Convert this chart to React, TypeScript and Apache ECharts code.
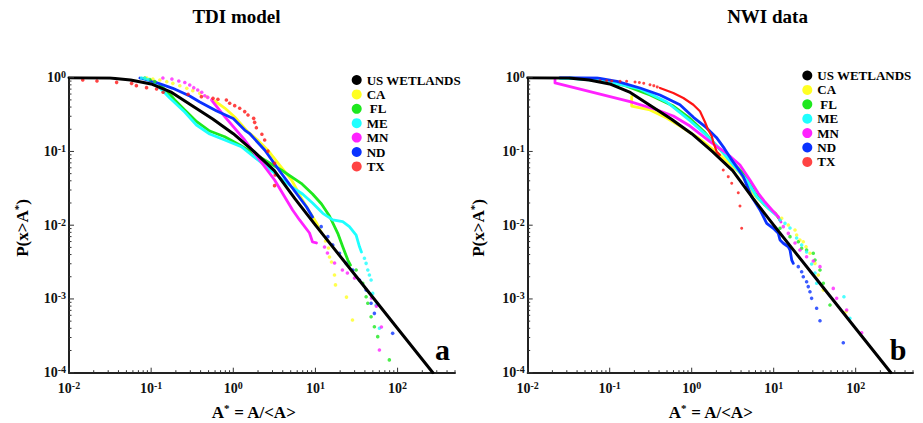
import { useEffect, useRef } from 'react';
import * as echarts from 'echarts';

const FONT = 'Liberation Serif';

// ---------- axis ranges and tick values ----------
const X_MIN = 0.01;
const X_MAX = 500;
const Y_MIN = 0.0001;
const Y_MAX = 1;
const X_MAJOR = [0.01, 0.1, 1, 10, 100];
const X_MINOR = [
  0.02, 0.03, 0.04, 0.05, 0.06, 0.07, 0.08, 0.09,
  0.2, 0.3, 0.4, 0.5, 0.6, 0.7, 0.8, 0.9,
  2, 3, 4, 5, 6, 7, 8, 9,
  20, 30, 40, 50, 60, 70, 80, 90,
  200, 300, 400, 500,
];
const Y_MAJOR = [0.0001, 0.001, 0.01, 0.1, 1];
const Y_MINOR = [
  0.0002, 0.0003, 0.0004, 0.0005, 0.0006, 0.0007, 0.0008, 0.0009,
  0.002, 0.003, 0.004, 0.005, 0.006, 0.007, 0.008, 0.009,
  0.02, 0.03, 0.04, 0.05, 0.06, 0.07, 0.08, 0.09,
  0.2, 0.3, 0.4, 0.5, 0.6, 0.7, 0.8, 0.9,
];

const NAMES = ['US WETLANDS', 'CA', 'FL', 'ME', 'MN', 'ND', 'TX'];

// ---------- US WETLANDS fit (both panels) ----------
const US_X = [0.01, 0.0316, 0.0562, 0.1, 0.178, 0.316, 0.562, 1, 1.78, 3.16, 5.62, 10, 31.6, 100, 269];
const US_Y = [1, 0.989, 0.933, 0.822, 0.631, 0.417, 0.275, 0.174, 0.1, 0.055, 0.0229, 0.01, 0.002, 0.000398, 0.0001];

// ---------- panel a : TDI model ----------
const CA_A_LINE_X = [0.5943, 0.787, 1.04, 1.496, 1.977, 2.618, 3.664, 5.129, 6.966, 8.97, 10.3, 11.86];
const CA_A_LINE_Y = [0.483, 0.388, 0.293, 0.186, 0.143, 0.1047, 0.0655, 0.041, 0.0219, 0.01374, 0.01072, 0.00784];
const CA_A_DOT_X = [0.0887, 0.105, 0.1276, 0.155, 0.1837, 0.2234, 0.2716, 0.3214, 0.3908, 0.4753, 13.27, 14.42, 14.83, 15.7, 17.06, 17.54, 23.88, 28.25];
const CA_A_DOT_Y = [0.991, 0.96, 0.931, 0.883, 0.839, 0.779, 0.718, 0.667, 0.614, 0.552, 0.0061, 0.00491, 0.00371, 0.00317, 0.00211, 0.00155, 0.00106, 0.000519];

const FL_A_LINE_X = [0.1276, 0.1596, 0.194, 0.2564, 0.359, 0.516, 0.787, 1.197, 1.91, 2.41, 3.84, 6.71, 9.22, 11.86, 14.83, 18.71, 21.5, 24.8, 26.7];
const FL_A_LINE_Y = [0.796, 0.64, 0.499, 0.365, 0.253, 0.189, 0.1585, 0.1223, 0.0895, 0.0766, 0.0561, 0.037, 0.0265, 0.0194, 0.01333, 0.00776, 0.0051, 0.00337, 0.00288];
const FL_A_DOT_X = [0.0837, 0.0964, 0.111, 31.3, 37.7, 41.4, 43.4, 47.6, 52.2, 57.3, 79.4];
const FL_A_DOT_Y = [0.991, 0.945, 0.888, 0.00247, 0.00163, 0.00107, 0.000873, 0.000574, 0.00042, 0.000308, 0.000149];

const ME_A_LINE_X = [0.102, 0.1276, 0.1687, 0.2564, 0.356, 0.516, 0.787, 1.253, 1.995, 3.184, 5.08, 6.97, 9.22, 12.3, 16.26, 21.5, 25.9, 31.3, 34.4, 36.3];
const ME_A_LINE_Y = [0.875, 0.725, 0.531, 0.343, 0.2284, 0.1725, 0.143, 0.116, 0.0766, 0.0506, 0.0333, 0.0265, 0.02, 0.01449, 0.01178, 0.01115, 0.00955, 0.00736, 0.0051, 0.00433];
const ME_A_DOT_X = [0.0764, 0.0837, 0.0912, 39.5, 41.4, 43.4, 45.4, 47.6, 49.8, 54.8, 60.1];
const ME_A_DOT_Y = [0.991, 0.975, 0.945, 0.00356, 0.00304, 0.00247, 0.00211, 0.00181, 0.00119, 0.000828, 0.0004];

const MN_A_LINE_X = [0.562, 0.787, 1.377, 2.41, 3.184, 4.217, 5.27, 6.41, 8.47, 9.22, 10.3];
const MN_A_LINE_Y = [0.473, 0.296, 0.143, 0.0621, 0.041, 0.0243, 0.0161, 0.01178, 0.00784, 0.00592, 0.00574];
const MN_A_DOT_X = [0.139, 0.179, 0.217, 0.257, 0.295, 0.33, 0.369, 0.413, 0.449, 0.489, 0.547, 12.9, 14.0, 17.1, 21.3, 24.5, 29.9, 48.1, 55.2, 63.5, 60.1];
const MN_A_DOT_Y = [0.991, 0.96, 0.902, 0.861, 0.796, 0.732, 0.681, 0.634, 0.57, 0.542, 0.499, 0.00506, 0.0042, 0.00307, 0.00247, 0.00225, 0.00192, 0.00103, 0.0008, 0.000417, 0.000203];

const ND_A_LINE_X = [0.073, 0.111, 0.1837, 0.295, 0.391, 0.628, 0.998, 1.377, 1.581, 2.41, 3.84, 5.85, 7.8, 9.22];
const ND_A_LINE_Y = [0.991, 0.875, 0.718, 0.565, 0.469, 0.353, 0.28, 0.195, 0.175, 0.1047, 0.0506, 0.0271, 0.01766, 0.01291];
const ND_A_DOT_X = [11.75, 14.16, 16.26, 19.63, 23.66, 28.45, 34.36, 41.4, 47.6, 52.2, 87.1];
const ND_A_DOT_Y = [0.00955, 0.00699, 0.0054, 0.00416, 0.00304, 0.00247, 0.00181, 0.00132, 0.000873, 0.000638, 0.000342];

const TX_A_DOT_X = [0.0147, 0.0219, 0.038, 0.0578, 0.0661, 0.0879, 0.1164, 0.14, 0.282, 0.409, 0.566, 0.65, 0.824, 0.904, 1.04, 1.197, 1.377, 1.51, 1.77, 1.82, 1.91, 2.23, 2.41, 2.64, 3.18, 3.24, 3.18];
const TX_A_DOT_Y = [0.931, 0.902, 0.865, 0.839, 0.78, 0.733, 0.703, 0.634, 0.596, 0.553, 0.525, 0.51, 0.499, 0.45, 0.418, 0.385, 0.347, 0.312, 0.281, 0.248, 0.21, 0.171, 0.143, 0.101, 0.069, 0.048, 0.0344];

// ---------- panel b : NWI data ----------
const CA_B_LINE_X = [0.1854, 0.1854, 0.31, 0.4955, 0.719, 1.262, 2.213, 3.88, 5.92, 8.51, 10.66];
const CA_B_LINE_Y = [0.552, 0.413, 0.365, 0.284, 0.221, 0.1476, 0.0895, 0.051, 0.0249, 0.0171, 0.01419];
const CA_B_DOT_X = [12.53, 15.07, 18.2, 19.05, 20.9, 22.96, 24.8, 27.7, 31.9, 35.0, 40.3, 76.2];
const CA_B_DOT_Y = [0.0124, 0.01007, 0.00861, 0.00736, 0.0063, 0.00597, 0.0051, 0.00416, 0.00304, 0.00211, 0.00132, 0.000671];

const FL_B_LINE_X = [0.0328, 0.0575, 0.1466, 0.31, 0.597, 0.953, 1.452, 2.018, 3.215, 4.69, 5.92, 7.83, 10.37, 11.94];
const FL_B_LINE_Y = [0.991, 0.94, 0.796, 0.582, 0.413, 0.28, 0.18, 0.118, 0.069, 0.0455, 0.0271, 0.0188, 0.01463, 0.01178];
const FL_B_DOT_X = [11.94, 15.81, 19.95, 21.93, 25.2, 30.4, 31.9, 36.7, 40.3, 48.6];
const FL_B_DOT_Y = [0.00908, 0.00699, 0.00597, 0.00486, 0.00461, 0.00416, 0.00337, 0.00247, 0.00163, 0.000828];

const ME_B_LINE_X = [0.0248, 0.036, 0.0918, 0.2344, 0.4955, 0.953, 1.524, 2.213, 3.215, 4.69, 6.21, 9.02, 10.66];
const ME_B_LINE_Y = [0.981, 0.969, 0.894, 0.703, 0.468, 0.262, 0.165, 0.108, 0.0655, 0.041, 0.0243, 0.0161, 0.01374];
const ME_B_DOT_X = [11.94, 13.74, 15.81, 19.05, 21.93, 25.2, 29.0, 31.9, 33.4, 71.9, 85.1];
const ME_B_DOT_Y = [0.01178, 0.0106, 0.00916, 0.0067, 0.0054, 0.00433, 0.00298, 0.00225, 0.00163, 0.00107, 0.000547];

const MN_B_LINE_X = [0.02153, 0.02153, 0.177, 0.374, 0.597, 0.953, 1.671, 2.673, 3.88, 5.14, 6.49, 7.83, 9.53, 11.38, 12.27];
const MN_B_LINE_Y = [0.94, 0.848, 0.473, 0.368, 0.303, 0.221, 0.1356, 0.0944, 0.0655, 0.041, 0.0271, 0.0206, 0.0161, 0.01303, 0.01104];
const MN_B_DOT_X = [13.09, 15.07, 18.2, 20.9, 25.2, 30.4, 36.7, 53.3, 58.6, 77.6, 118.3];
const MN_B_DOT_Y = [0.00955, 0.00776, 0.00574, 0.00461, 0.00374, 0.00327, 0.00274, 0.00139, 0.00102, 0.000708, 0.000348];

const ND_B_LINE_X = [0.0248, 0.0356, 0.07, 0.1227, 0.2344, 0.41, 0.719, 1.05, 1.5, 2.0, 2.5, 3.0, 3.6, 4.256, 5.395, 6.808, 8.22, 9.89, 11.38, 11.94, 13.09, 15.07, 15.81, 16.6, 17.34];
const ND_B_LINE_Y = [1.0, 1.0, 0.991, 0.894, 0.725, 0.582, 0.43, 0.29, 0.212, 0.155, 0.11, 0.08, 0.06, 0.0455, 0.0243, 0.0161, 0.0106, 0.00908, 0.00776, 0.0063, 0.00569, 0.0051, 0.00461, 0.00337, 0.00304];
const ND_B_DOT_X = [19.95, 21.93, 22.96, 25.2, 26.4, 27.7, 29.0, 33.4, 36.7, 70.6];
const ND_B_DOT_Y = [0.00274, 0.00234, 0.002, 0.00171, 0.00147, 0.00125, 0.00102, 0.000747, 0.000507, 0.000255];

const TX_B_LINE_X = [0.41, 0.597, 0.791, 1.047, 1.262, 1.452, 1.592, 1.754, 1.834, 2.018, 2.213];
const TX_B_LINE_Y = [0.725, 0.621, 0.531, 0.43, 0.35, 0.251, 0.195, 0.162, 0.134, 0.0993, 0.0895];
const TX_B_DOT_X = [0.0762, 0.0918, 0.1057, 0.1337, 0.161, 0.2037, 0.23, 0.26, 0.31, 0.345, 0.38, 2.427, 2.793, 3.076, 3.7, 3.88, 4.07];
const TX_B_DOT_Y = [0.91, 0.91, 0.902, 0.894, 0.894, 0.875, 0.86, 0.84, 0.804, 0.78, 0.75, 0.0561, 0.0455, 0.037, 0.0276, 0.0182, 0.00908];

// ---------- styles ----------
const COLOR: Record<string, string> = {
  'US WETLANDS': '#000000',
  CA: '#ffff22',
  FL: '#1ee81e',
  ME: '#1effff',
  MN: '#ff22ff',
  ND: '#0a32ff',
  TX: '#ff1414',
};

const pts = (xs: number[], ys: number[]) => xs.map((x, i) => [x, ys[i]]);

const lineS = (name: string, g: number, xs: number[], ys: number[], width = 2.8, z = 2) => ({
  type: 'line',
  name,
  xAxisIndex: g,
  yAxisIndex: g,
  data: pts(xs, ys),
  symbol: 'none',
  showSymbol: false,
  lineStyle: { color: COLOR[name], width, cap: 'round', join: 'round' },
  itemStyle: { color: COLOR[name] },
  silent: true,
  z,
});

const dotS = (name: string, g: number, xs: number[], ys: number[], size = 3.6) => ({
  type: 'scatter',
  name,
  xAxisIndex: g,
  yAxisIndex: g,
  data: pts(xs, ys),
  symbol: 'circle',
  symbolSize: size,
  itemStyle: { color: COLOR[name] },
  silent: true,
  z: 2,
});

const tickS = (g: number, values: number[], dir: 'x' | 'y', len: number) => ({
  type: 'custom',
  xAxisIndex: g,
  yAxisIndex: g,
  silent: true,
  clip: false,
  z: 6,
  data: values.map((v) => (dir === 'x' ? [v, Y_MIN] : [X_MIN, v])),
  renderItem: (_p: any, api: any) => {
    const p = api.coord([api.value(0), api.value(1)]);
    const shape =
      dir === 'x'
        ? { x1: p[0], y1: p[1], x2: p[0], y2: p[1] - len }
        : { x1: p[0], y1: p[1], x2: p[0] + len, y2: p[1] };
    return { type: 'line', shape, style: { stroke: '#333', lineWidth: 1 } };
  },
});

const labelFmt = (v: number) => {
  const e = Math.round(Math.log10(v));
  if (Math.abs(v / Math.pow(10, e) - 1) > 1e-6) return '';
  return `{b|10}{s|${e}}`;
};

const tickRich = {
  b: { fontFamily: FONT, fontWeight: 'bold', fontSize: 14, lineHeight: 16, color: '#111' },
  s: { fontFamily: FONT, fontWeight: 'bold', fontSize: 10, lineHeight: 7, verticalAlign: 'top', color: '#111' },
};

const nameRich = {
  n: { fontFamily: FONT, fontWeight: 'bold', fontSize: 17, lineHeight: 20, color: '#000' },
  s: { fontFamily: FONT, fontWeight: 'bold', fontSize: 11, lineHeight: 13, verticalAlign: 'top', color: '#000' },
};

const axisLabelBase = {
  formatter: labelFmt,
  rich: tickRich,
  fontFamily: FONT,
  fontWeight: 'bold',
  fontSize: 14,
  color: '#111',
  showMinLabel: true,
  showMaxLabel: true,
};

const xAxisOf = (g: number) => ({
  type: 'log',
  logBase: 10,
  gridIndex: g,
  min: X_MIN,
  max: X_MAX,
  axisLine: { show: true, onZero: false, lineStyle: { color: '#222', width: 2 } },
  axisTick: { show: false },
  minorTick: { show: false },
  splitLine: { show: false },
  axisLabel: { ...axisLabelBase, margin: 8 },
});

const yAxisOf = (g: number) => ({
  type: 'log',
  logBase: 10,
  gridIndex: g,
  min: Y_MIN,
  max: Y_MAX,
  axisLine: { show: true, onZero: false, lineStyle: { color: '#222', width: 2 } },
  axisTick: { show: false },
  minorTick: { show: false },
  splitLine: { show: false },
  axisLabel: { ...axisLabelBase, margin: 3 },
});

const legendText = { fontFamily: FONT, fontWeight: 'bold', fontSize: 13, lineHeight: 14, color: '#000' };

const legendOf = (left: number, top: number) => ({
  data: NAMES,
  orient: 'vertical',
  left,
  top,
  icon: 'circle',
  itemWidth: 10,
  itemHeight: 10,
  itemGap: 0.4,
  padding: 0,
  selectedMode: false,
  formatter: (name: string) => (name === 'FL' ? '{p|FL}' : name),
  textStyle: { ...legendText, rich: { p: { ...legendText, padding: [0, 0, 0, 3] } } },
});

const panelSeries = (g: number, parts: any[]) => [
  ...parts,
  lineS('US WETLANDS', g, US_X, US_Y, 3, 4),
  tickS(g, X_MAJOR, 'x', 5),
  tickS(g, X_MINOR, 'x', 2.5),
  tickS(g, Y_MAJOR, 'y', 5),
  tickS(g, Y_MINOR, 'y', 2.5),
];

export default function App() {
  const ref = useRef<HTMLDivElement>(null);

  useEffect(() => {
    if (!ref.current) return;
    const chart = echarts.init(ref.current, null, { renderer: 'svg' });

    const seriesA = panelSeries(0, [
      lineS('CA', 0, CA_A_LINE_X, CA_A_LINE_Y),
      dotS('CA', 0, CA_A_DOT_X, CA_A_DOT_Y),
      lineS('FL', 0, FL_A_LINE_X, FL_A_LINE_Y),
      dotS('FL', 0, FL_A_DOT_X, FL_A_DOT_Y),
      lineS('ME', 0, ME_A_LINE_X, ME_A_LINE_Y),
      dotS('ME', 0, ME_A_DOT_X, ME_A_DOT_Y),
      lineS('MN', 0, MN_A_LINE_X, MN_A_LINE_Y),
      dotS('MN', 0, MN_A_DOT_X, MN_A_DOT_Y),
      lineS('ND', 0, ND_A_LINE_X, ND_A_LINE_Y),
      dotS('ND', 0, ND_A_DOT_X, ND_A_DOT_Y),
      dotS('TX', 0, TX_A_DOT_X, TX_A_DOT_Y),
    ]);
    const seriesB = panelSeries(1, [
      lineS('CA', 1, CA_B_LINE_X, CA_B_LINE_Y),
      dotS('CA', 1, CA_B_DOT_X, CA_B_DOT_Y),
      lineS('FL', 1, FL_B_LINE_X, FL_B_LINE_Y),
      dotS('FL', 1, FL_B_DOT_X, FL_B_DOT_Y),
      lineS('ME', 1, ME_B_LINE_X, ME_B_LINE_Y),
      dotS('ME', 1, ME_B_DOT_X, ME_B_DOT_Y),
      lineS('MN', 1, MN_B_LINE_X, MN_B_LINE_Y),
      dotS('MN', 1, MN_B_DOT_X, MN_B_DOT_Y),
      lineS('ND', 1, ND_B_LINE_X, ND_B_LINE_Y),
      dotS('ND', 1, ND_B_DOT_X, ND_B_DOT_Y),
      lineS('TX', 1, TX_B_LINE_X, TX_B_LINE_Y, 2.2),
      dotS('TX', 1, TX_B_DOT_X, TX_B_DOT_Y, 3),
    ]);

    const text = (x: number, y: number, t: string, size: number, extra: any = {}) => ({
      type: 'text',
      x,
      y,
      silent: true,
      ...extra,
      style: {
        text: t,
        fontFamily: FONT,
        fontWeight: 'bold',
        fontSize: size,
        fill: '#000',
        align: 'center',
        verticalAlign: 'middle',
        ...(extra.style || {}),
      },
    });

    chart.setOption({
      animation: false,
      backgroundColor: '#ffffff',
      grid: [
        { left: 69, top: 77.7, width: 386, height: 295 },
        { left: 527.7, top: 77.7, width: 385.3, height: 295 },
      ],
      xAxis: [xAxisOf(0), xAxisOf(1)],
      yAxis: [yAxisOf(0), yAxisOf(1)],
      legend: [legendOf(351.7, 73), legendOf(802.3, 68.5)],
      series: [...seriesA, ...seriesB],
      graphic: [
        text(236.5, 16.3, 'TDI model', 19),
        text(767.5, 16.3, 'NWI data', 19),
        text(254, 412, '{n|A}{s|*}{n| = A/<A>}', 17, { style: { rich: nameRich } }),
        text(711, 412, '{n|A}{s|*}{n| = A/<A>}', 17, { style: { rich: nameRich } }),
        text(22, 228, '{n|P(x>A}{s|*}{n|)}', 17, { rotation: Math.PI / 2, style: { rich: nameRich } }),
        text(478, 228, '{n|P(x>A}{s|*}{n|)}', 17, { rotation: Math.PI / 2, style: { rich: nameRich } }),
        text(442.5, 349, 'a', 30),
        text(898, 349, 'b', 30),
      ],
    });

    return () => chart.dispose();
  }, []);

  return <div ref={ref} style={{ position: 'absolute', left: 0, top: 0, width: 923, height: 423 }} />;
}
